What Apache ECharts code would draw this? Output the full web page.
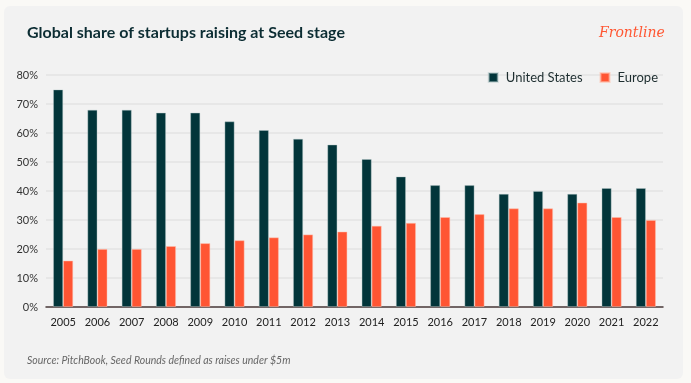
<!DOCTYPE html>
<html><head><meta charset="utf-8">
<script src="https://cdn.jsdelivr.net/npm/echarts@6/dist/echarts.min.js"></script>
<style>
html,body{margin:0;padding:0;background:#faf9f6;}
#card{position:absolute;left:4px;top:6px;width:679px;height:373px;background:#f2f2f2;border-radius:6px;}
#chart{position:absolute;left:0;top:0;width:691px;height:383px;}
</style></head>
<body>
<div id="card"></div>
<div id="chart"></div>
<script>
const years = ['2005','2006','2007','2008','2009','2010','2011','2012','2013','2014','2015','2016','2017','2018','2019','2020','2021','2022'];
const unitedStates = [75,68,68,67,67,64,61,58,56,51,45,42,42,39,40,39,41,41];
const europe = [16,20,20,21,22,23,24,25,26,28,29,31,32,34,34,36,31,30];
const yTicks = [0,10,20,30,40,50,60,70,80];

const chart = echarts.init(document.getElementById('chart'), null, {renderer:'canvas'});
chart.setOption({
  backgroundColor:'transparent',
  textStyle:{fontFamily:'Lato'},
  title:[
    {text:'Global share of startups raising at Seed stage', left:22, top:20,
     textStyle:{fontFamily:'Lato', fontSize:16, fontWeight:'bold', color:'#0c2d33'}},
    {text:'Frontline', left:594, top:21,
     textStyle:{fontFamily:'DejaVu Serif', fontStyle:'italic', fontSize:14, fontWeight:'normal', color:'#ff5733'}},
    {text:'Source: PitchBook, Seed Rounds defined as raises under $5m', left:22, top:350,
     textStyle:{fontFamily:'Lato', fontStyle:'italic', fontSize:10.5, fontWeight:'normal', color:'#666'}}
  ],
  legend:{
    right:28, top:66, itemWidth:9, itemHeight:9, itemGap:17, icon:'rect',
    textStyle:{fontFamily:'Lato', fontSize:13, color:'#1e2e30', padding:[0,0,0,3]},
    data:['United States','Europe']
  },
  grid:{left:46, right:28, top:75, bottom:76},
  xAxis:{
    type:'category', data:years,
    axisLine:{lineStyle:{color:'#4a3a3a', width:1.5}},
    axisTick:{show:false},
    axisLabel:{fontFamily:'Lato', fontSize:11, color:'#222', margin:10}
  },
  yAxis:{
    type:'value', min:0, max:80, interval:10,
    axisLabel:{fontFamily:'Lato', fontSize:11, color:'#333', margin:8,
      formatter:v => yTicks.includes(v) ? v + '%' : ''},
    splitLine:{lineStyle:{color:'#e3e3e3', width:1.5}},
    axisLine:{show:false}, axisTick:{show:false}
  },
  series:[
    {name:'United States', type:'bar', data:unitedStates, barWidth:10, barGap:'0%',
     itemStyle:{color:'#02353a', borderColor:'rgba(180,200,200,0.5)', borderWidth:0.8}},
    {name:'Europe', type:'bar', data:europe, barWidth:10,
     itemStyle:{color:'#ff5533', borderColor:'rgba(255,190,170,0.6)', borderWidth:0.8}}
  ]
});
</script>
</body></html>
